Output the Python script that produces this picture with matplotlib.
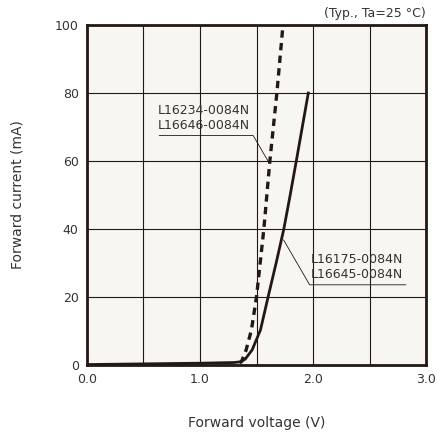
import numpy as np
import matplotlib
matplotlib.use("Agg")
import matplotlib.pyplot as plt

# Forward voltage (V) vs forward current (mA)
vf_solid = [0.0, 0.5, 1.0, 1.30, 1.357, 1.40, 1.461, 1.535, 1.603, 1.674, 1.742, 1.798, 1.852, 1.905, 1.958]
if_solid = [0.0, 0.2, 0.4, 0.6, 0.8, 1.6, 4.3, 10.2, 20.0, 30.0, 40.0, 50.0, 60.0, 70.0, 80.0]

vf_dash = [1.35, 1.366, 1.408, 1.455, 1.50, 1.565, 1.618, 1.68, 1.73]
if_dash = [0.6, 0.8, 4.3, 10.2, 20.0, 40.0, 60.0, 80.0, 98.5]

label_dash = "L16234-0084N\nL16646-0084N"
label_solid = "L16175-0084N\nL16645-0084N"

ink = "#231815"
bg = "#f7f6f0"

fig = plt.figure(figsize=(4.37, 4.34), dpi=100)
ax = fig.add_axes([0.199, 0.160, 0.776, 0.782])
ax.set_facecolor(bg)

ax.plot(vf_solid, if_solid, color=ink, lw=2.0, solid_joinstyle="round")
ax.plot(vf_dash, if_dash, color=ink, lw=2.4, dashes=(2.2, 1.6))

ax.set_xlim(0, 3)
ax.set_ylim(0, 100)
ax.set_xticks([0, 0.5, 1.0, 1.5, 2.0, 2.5, 3.0])
ax.set_xticklabels(["0.0", "", "1.0", "", "2.0", "", "3.0"])
ax.set_yticks([0, 20, 40, 60, 80, 100])
ax.tick_params(length=0, labelsize=9, colors="#333333", pad=6)
ax.grid(True, color=ink, lw=0.8)
ax.set_axisbelow(True)
for s in ax.spines.values():
    s.set_color(ink)
    s.set_linewidth(2)

# leader lines with underlined labels
ax.plot([0.64, 1.47, 1.61], [67.5, 67.5, 59.5], color=ink, lw=0.6)
ax.text(0.63, 68.5, label_dash, fontsize=9, color="#333333", va="bottom", ha="left", linespacing=1.2)
ax.plot([2.82, 1.97, 1.74], [23.5, 23.5, 36.7], color=ink, lw=0.6)
ax.text(1.98, 24.5, label_solid, fontsize=9, color="#333333", va="bottom", ha="left", linespacing=1.2)

ax.text(1.0, 1.015, "(Typ., Ta=25 °C)", transform=ax.transAxes, ha="right", va="bottom",
        fontsize=9, color="#333333")

ax.set_xlabel("Forward voltage (V)", fontsize=10, color="#333333", labelpad=22)
ax.set_ylabel("Forward current (mA)", fontsize=10, color="#333333", labelpad=22)

fig.savefig("out.png", dpi=100)
